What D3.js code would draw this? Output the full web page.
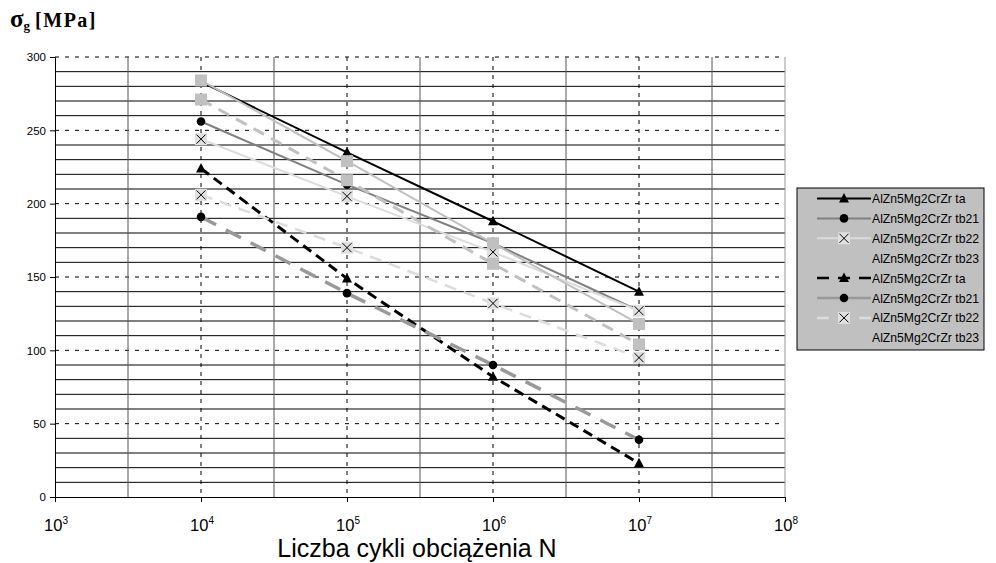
<!DOCTYPE html>
<html>
<head>
<meta charset="utf-8">
<script src="https://cdn.jsdelivr.net/npm/d3@7"></script>
<style>
  body { margin: 0; background: #fff; }
  svg { display: block; }
</style>
</head>
<body>
<div id="chart"></div>
<script>
// number of load cycles where points were measured
var cycles = [1e4, 1e5, 1e6, 1e7];

// stress values [MPa], one array per series
var taSolid   = [283, 235, 188, 140];
var tb21Solid = [256, 213, 173, 127];
var tb22Solid = [244, 205, 167, 127];
var tb23Solid = [284, 229, 173, 118];
var taDash    = [224, 149, 82, 23];
var tb21Dash  = [191, 139, 90, 39];
var tb22Dash  = [206, 170, 132, 95];
var tb23Dash  = [271, 216, 159, 104];

var seriesNames = [
  "AlZn5Mg2CrZr ta", "AlZn5Mg2CrZr tb21", "AlZn5Mg2CrZr tb22", "AlZn5Mg2CrZr tb23",
  "AlZn5Mg2CrZr ta", "AlZn5Mg2CrZr tb21", "AlZn5Mg2CrZr tb22", "AlZn5Mg2CrZr tb23"
];

var xTickExp = [3, 4, 5, 6, 7, 8];
var yTicks = [0, 50, 100, 150, 200, 250, 300];

var W = 996, H = 563;
var pLeft = 55, pRight = 785, pTop = 57, pBottom = 497;

var x = d3.scaleLog().domain([1e3, 1e8]).range([pLeft, pRight]);
var y = d3.scaleLinear().domain([0, 300]).range([pBottom, pTop]);

var svg = d3.select("#chart").append("svg")
  .attr("width", W)
  .attr("height", H);

// grid - minor horizontal lines every 10
var grid = svg.append("g");
grid.selectAll(".hminor")
  .data(y.ticks(30).filter(function (d) { return d % 50 !== 0; }))
  .enter().append("line")
  .attr("x1", pLeft).attr("x2", pRight)
  .attr("y1", function (d) { return y(d); })
  .attr("y2", function (d) { return y(d); })
  .attr("stroke", "#000")
  .attr("stroke-width", 1);

// major horizontal lines dashed
grid.selectAll(".hmajor")
  .data(yTicks.filter(function (d) { return d > 0; }))
  .enter().append("line")
  .attr("x1", pLeft).attr("x2", pRight)
  .attr("y1", function (d) { return y(d); })
  .attr("y2", function (d) { return y(d); })
  .attr("stroke", "#000")
  .attr("stroke-dasharray", "4,6")
  .attr("stroke-width", 1);

// half decade vertical lines (solid)
grid.selectAll(".vhalf")
  .data(xTickExp.slice(0, -1))
  .enter().append("line")
  .attr("x1", function (d) { return x(Math.pow(10, d + 0.5)); })
  .attr("x2", function (d) { return x(Math.pow(10, d + 0.5)); })
  .attr("y1", pTop).attr("y2", pBottom)
  .attr("stroke", "#555")
  .attr("stroke-width", 1);

// decade vertical lines (dashed)
grid.selectAll(".vdec")
  .data(xTickExp.slice(1, -1))
  .enter().append("line")
  .attr("x1", function (d) { return x(Math.pow(10, d)); })
  .attr("x2", function (d) { return x(Math.pow(10, d)); })
  .attr("y1", pTop).attr("y2", pBottom)
  .attr("stroke", "#000")
  .attr("stroke-dasharray", "4,5")
  .attr("stroke-width", 1);

// right edge
grid.append("line")
  .attr("x1", pRight).attr("x2", pRight)
  .attr("y1", pTop).attr("y2", pBottom)
  .attr("stroke", "#999");

// axes
var yAxis = d3.axisLeft(y).tickValues(yTicks).tickSize(5).tickPadding(4);
var gy = svg.append("g")
  .attr("transform", "translate(" + pLeft + ",0)")
  .call(yAxis);
gy.selectAll("text")
  .style("font-family", "Arial, 'Liberation Sans', sans-serif")
  .style("font-size", "11.5px")
  .attr("fill", "#000");
gy.selectAll("line, path").attr("stroke", "#000");

var xAxis = d3.axisBottom(x).tickValues(xTickExp.map(function (d) { return Math.pow(10, d); }))
  .tickSize(5).tickFormat("");
var gx = svg.append("g")
  .attr("transform", "translate(0," + pBottom + ")")
  .call(xAxis);
gx.selectAll("line, path").attr("stroke", "#000");

// x tick labels as 10 with superscript
var xl = svg.append("g").selectAll("text")
  .data(xTickExp)
  .enter().append("text")
  .attr("x", function (d) { return x(Math.pow(10, d)) + 1; })
  .attr("y", 531)
  .attr("text-anchor", "middle")
  .style("font-family", "Arial, 'Liberation Sans', sans-serif")
  .style("font-size", "16.5px");
xl.append("tspan").text("10");
xl.append("tspan")
  .attr("dy", -7)
  .style("font-size", "10px")
  .text(function (d) { return d; });

// axis titles
svg.append("text")
  .attr("x", 417)
  .attr("y", 557)
  .attr("text-anchor", "middle")
  .style("font-family", "Arial, 'Liberation Sans', sans-serif")
  .style("font-size", "25px")
  .text("Liczba cykli obciążenia N");

var yt = svg.append("text")
  .attr("x", 10)
  .attr("y", 27)
  .style("font-family", "'Times New Roman', 'Liberation Serif', serif")
  .style("font-weight", "bold")
  .style("font-size", "20px");
yt.append("tspan").style("font-size", "25px").text("σ");
yt.append("tspan").attr("dy", 3).style("font-size", "13px").text("g");
yt.append("tspan").attr("dy", -3).attr("dx", 5).style("letter-spacing", "1.5px").text("[MPa]");

// series styles
var series = [
  { values: taSolid,   color: "#000",    width: 2,   dash: null,    legDash: null,   marker: "triangle" },
  { values: tb21Solid, color: "#808080", width: 2,   dash: null,    legDash: null,   marker: "circle" },
  { values: tb22Solid, color: "#dcdcdc", width: 2,   dash: null,    legDash: null,   marker: "x" },
  { values: tb23Solid, color: "#c0c0c0", width: 2,   dash: null,    legDash: null,   marker: "square" },
  { values: taDash,    color: "#000",    width: 3,   dash: "10,6",  legDash: "12,9", marker: "triangle" },
  { values: tb21Dash,  color: "#999999", width: 3.5, dash: "17,11", legDash: null,   marker: "circle" },
  { values: tb22Dash,  color: "#dcdcdc", width: 2.5, dash: "12,8",  legDash: "12,9", marker: "x" },
  { values: tb23Dash,  color: "#c0c0c0", width: 3,   dash: "12,8",  legDash: "12,9", marker: "square" }
];

var line = d3.line()
  .x(function (d) { return x(d.n); })
  .y(function (d) { return y(d.v); });

function drawMarker(g, type) {
  if (type === "triangle") {
    g.append("path").attr("d", "M0,-5.5L5,4L-5,4Z").attr("fill", "#000");
  } else if (type === "circle") {
    g.append("circle").attr("r", 4.3).attr("fill", "#000");
  } else if (type === "x") {
    g.append("rect").attr("x", -6).attr("y", -6).attr("width", 12).attr("height", 12)
      .attr("fill", "#e0e0e0");
    g.append("path").attr("d", "M-4.5,-4.5L4.5,4.5M4.5,-4.5L-4.5,4.5")
      .attr("stroke", "#000").attr("stroke-width", 1).attr("fill", "none");
  } else if (type === "square") {
    g.append("rect").attr("x", -6).attr("y", -6).attr("width", 12).attr("height", 12)
      .attr("fill", "#c0c0c0");
  }
}

var plot = svg.append("g");
series.forEach(function (s) {
  var pts = cycles.map(function (n, i) { return { n: n, v: s.values[i] }; });
  plot.append("path")
    .datum(pts)
    .attr("d", line)
    .attr("fill", "none")
    .attr("stroke", s.color)
    .attr("stroke-width", s.width)
    .attr("stroke-dasharray", s.dash);
  pts.forEach(function (p) {
    var m = plot.append("g").attr("transform", "translate(" + x(p.n) + "," + y(p.v) + ")");
    drawMarker(m, s.marker);
  });
});

// legend
var lg = svg.append("g").attr("transform", "translate(797,188)");
lg.append("rect")
  .attr("width", 187).attr("height", 162)
  .attr("fill", "#c0c0c0")
  .attr("stroke", "#000")
  .attr("stroke-width", 1);

series.forEach(function (s, i) {
  var ry = 10.5 + i * 19.9;
  var row = lg.append("g").attr("transform", "translate(0," + ry + ")");
  row.append("line")
    .attr("x1", 20).attr("x2", 74)
    .attr("stroke", s.color)
    .attr("stroke-width", s.dash ? 2.5 : 2)
    .attr("stroke-dasharray", s.legDash);
  var m = row.append("g").attr("transform", "translate(47,0)");
  drawMarker(m, s.marker);
  row.append("text")
    .attr("x", 75).attr("y", 4.5)
    .style("font-family", "Arial, 'Liberation Sans', sans-serif")
    .style("font-size", "12.2px")
    .text(seriesNames[i]);
});
</script>
</body>
</html>
